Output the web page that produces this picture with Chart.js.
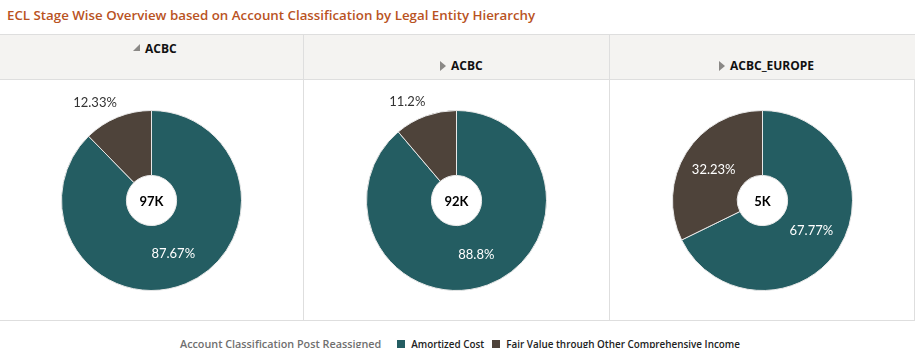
<!DOCTYPE html>
<html>
<head>
<meta charset="utf-8">
<script src="https://cdn.jsdelivr.net/npm/chart.js@4"></script>
<style>
  body { margin: 0; background: #fff; font-family: "Open Sans", sans-serif; }
  .wrap { position: relative; width: 919px; height: 348px; overflow: hidden; }
  .title { position: absolute; left: 7px; top: 6px; font-size: 13.3px; font-weight: 600; color: #b9531f; white-space: nowrap; }
  .grid { position: absolute; left: 0; top: 34px; width: 915px; height: 287px; border-top: 1px solid #dedede; border-right: 1px solid #dedede; border-bottom: 1px solid #dedede; box-sizing: border-box; }
  .panel { position: absolute; top: 0; height: 100%; box-sizing: border-box; }
  .panel + .panel { border-left: 1px solid #dedede; }
  .head { height: 44px; background: #f4f3f1; border-bottom: 1px solid #dedede; position: relative; }
  .lbl { position: absolute; font-size: 12px; font-weight: 700; color: #111; white-space: nowrap; }
  .tri-open { position: absolute; width: 0; height: 0; border-left: 7px solid transparent; border-bottom: 7px solid #8a8886; }
  .tri-closed { position: absolute; width: 0; height: 0; border-top: 5px solid transparent; border-bottom: 5px solid transparent; border-left: 6px solid #8a8886; }
  canvas { display: block; }
  .legend { position: absolute; top: 336px; left: 180px; font-weight: 600; white-space: nowrap; display: flex; align-items: center; }
  .legend .ttl { color: #6f6f6f; font-size: 10.8px; margin-right: 16px; }
  .legend .sw { width: 8px; height: 8px; margin-right: 6px; }
  .legend .it { color: #222; font-size: 9.9px; margin-right: 8px; }
</style>
</head>
<body>
<div class="wrap">
  <div class="title">ECL Stage Wise Overview based on Account Classification by Legal Entity Hierarchy</div>
  <div class="grid" id="grid"></div>
  <div class="legend" id="legend"></div>
</div>
<script>
// entities across the top, one doughnut each
const entities = ['ACBC', 'ACBC', 'ACBC_EUROPE'];
const totals = ['97K', '92K', '5K'];
const classes = ['Amortized Cost', 'Fair Value through Other Comprehensive Income'];
const amortizedPct = [87.67, 88.8, 67.77];
const fvociPct = [12.33, 11.2, 32.23];
const colors = ['#245d62', '#4e433a'];

// header layout per panel: left edge, width, label offset, expanded?
const panels = [
  { left: 0, width: 303, lx: 145, ly: 5, open: true },
  { left: 303, width: 306, lx: 147, ly: 22, open: false },
  { left: 609, width: 306, lx: 120, ly: 22, open: false }
];

const grid = document.getElementById('grid');

// percentages on the slices, total in the hole
const sliceLabels = {
  id: 'sliceLabels',
  afterDatasetsDraw(chart) {
    const ctx = chart.ctx;
    const meta = chart.getDatasetMeta(0);
    const data = chart.data.datasets[0].data;
    ctx.save();
    meta.data.forEach((arc, i) => {
      const mid = (arc.startAngle + arc.endAngle) / 2;
      const pct = data[i];
      const text = pct + '%';
      ctx.font = '13px Lato';
      ctx.textBaseline = 'middle';
      if (pct >= 15) {
        const r = (arc.innerRadius + arc.outerRadius) / 2;
        ctx.fillStyle = '#ffffff';
        ctx.textAlign = 'center';
        ctx.fillText(text, arc.x + Math.cos(mid) * r, arc.y + Math.sin(mid) * r);
      } else {
        const r = arc.outerRadius + 15;
        const x = arc.x + Math.cos(mid) * r;
        const y = arc.y + Math.sin(mid) * r;
        ctx.fillStyle = '#333333';
        ctx.textAlign = Math.cos(mid) < 0 ? 'right' : 'left';
        ctx.fillText(text, x + (Math.cos(mid) < 0 ? 5 : -5), y);
      }
    });
    const a = meta.data[0];
    ctx.fillStyle = '#000';
    ctx.font = 'bold 13px Lato';
    ctx.textAlign = 'center';
    ctx.fillText(chart.options.plugins.centerText, a.x, a.y + 1);
    ctx.restore();
  }
};

panels.forEach((p, i) => {
  const el = document.createElement('div');
  el.className = 'panel';
  el.style.left = p.left + 'px';
  el.style.width = p.width + 'px';

  const head = document.createElement('div');
  head.className = 'head';
  const tri = document.createElement('div');
  tri.className = p.open ? 'tri-open' : 'tri-closed';
  tri.style.left = (p.lx - (p.open ? 12 : 11)) + 'px';
  tri.style.top = (p.ly + 4) + 'px';
  const lbl = document.createElement('div');
  lbl.className = 'lbl';
  lbl.style.left = p.lx + 'px';
  lbl.style.top = p.ly + 'px';
  lbl.textContent = entities[i];
  head.appendChild(tri);
  head.appendChild(lbl);
  el.appendChild(head);

  const cv = document.createElement('canvas');
  el.appendChild(cv);
  grid.appendChild(el);

  const w = p.width - (i > 0 ? 1 : 0);
  cv.width = w;
  cv.height = 241;
  cv.style.width = w + 'px';
  cv.style.height = '241px';

  new Chart(cv, {
    type: 'doughnut',
    data: {
      labels: classes,
      datasets: [{
        data: [amortizedPct[i], fvociPct[i]],
        backgroundColor: colors,
        borderColor: '#e8e8e8',
        borderWidth: 1,
        radius: 90,
        cutout: 33.5
      }]
    },
    options: {
      responsive: false,
      animation: false,
      events: [],
      layout: { padding: 0 },
      plugins: {
        legend: { display: false },
        tooltip: { enabled: false },
        centerText: totals[i]
      }
    },
    plugins: [sliceLabels]
  });
});

// legend row underneath
const legend = document.getElementById('legend');
legend.innerHTML = '<span class="ttl">Account Classification Post Reassigned</span>' +
  classes.map((c, i) => '<span class="sw" style="background:' + colors[i] + '"></span><span class="it">' + c + '</span>').join('');
</script>
</body>
</html>
